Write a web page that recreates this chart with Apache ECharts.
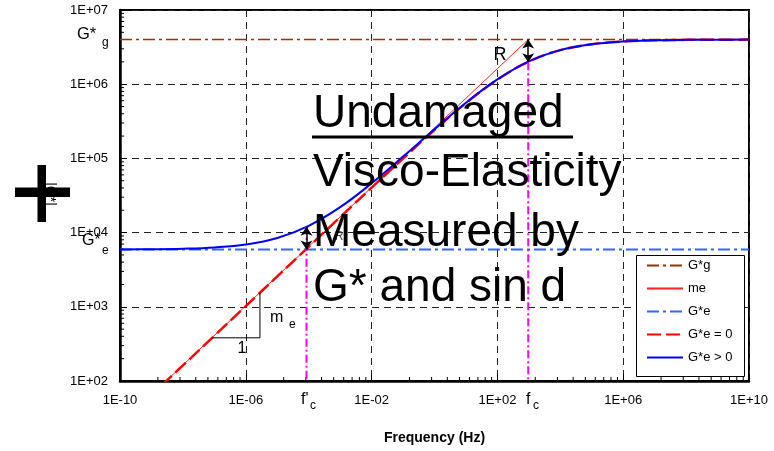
<!DOCTYPE html>
<html>
<head>
<meta charset="utf-8">
<script src="https://cdn.jsdelivr.net/npm/echarts@6/dist/echarts.min.js"></script>
<style>
  html, body { margin: 0; padding: 0; background: #fff; }
  #chart { width: 774px; height: 451px; }
</style>
</head>
<body>
<div id="chart"></div>
<script>
// log10 of frequency (Hz) at each decade
const freqExp = [-10, -9, -8, -7, -6, -5, -4, -3, -2, -1, 0, 1, 2, 3, 4, 5, 6, 7, 8, 9, 10]
// |G*| with G*e > 0 (blue) and G*e = 0 (red dashed)
const gWithGe = [5930, 5965, 6060, 6310, 6920, 8470, 12350, 22000, 46200, 105700, 247400, 562000,
  1159000, 2030000, 2880000, 3460000, 3770000, 3900000, 3960000, 3980000, 3990000]
const gNoGe = [26, 65, 162, 407, 1023, 2570, 6450, 16150, 40300, 99800, 241500, 556000,
  1153000, 2020000, 2880000, 3460000, 3770000, 3900000, 3960000, 3980000, 3990000]

const gGlassy = 4.0e6 // G*g
const gEquil = 5900 // G*e
const fcExp = 2.98 // fc
const fcPrimeExp = -4.07 // f'c
const gAtFc = 1970000
const gAtFcPrime = 12000
const meLineExp = [-10, fcExp]
const meLineG = [26, gGlassy]
// slope triangle corners
const slopeExp = [-7.07, -5.55, -5.55]
const slopeG = [382, 382, 1550]

const xTicks = ['1E-10', '1E-06', '1E-02', '1E+02', '1E+06', '1E+10']

const FONT = '"Liberation Sans", Arial, sans-serif'
const CLEAR = 'rgba(0,0,0,0)' // hides the legend marker, keeps the line
// x axis is log10(f) shifted so ticks start at 0
const xOf = e => e + 10
const pairs = (xs, ys) => xs.map((e, i) => [xOf(e), ys[i]])

const chart = echarts.init(document.getElementById('chart'))

chart.setOption({
  animation: false,
  backgroundColor: '#fff',
  textStyle: { fontFamily: FONT },
  grid: {
    left: 120, right: 25, top: 10, bottom: 70,
    show: true, borderColor: '#000', borderWidth: 2
  },
  legend: {
    orient: 'vertical',
    left: 646, top: 259,
    itemWidth: 36, itemHeight: 12, itemGap: 10,
    padding: 0,
    selectedMode: false,
    z: 5,
    textStyle: { fontSize: 13, color: '#000', fontFamily: FONT },
    data: ['G*g', 'me', 'G*e', 'G*e = 0', 'G*e > 0']
  },
  xAxis: {
    type: 'value',
    min: 0, max: 20, interval: 4,
    axisLine: { lineStyle: { color: '#000', width: 2.5 } },
    axisTick: { inside: true, length: 7, lineStyle: { color: '#000', width: 1 } },
    axisLabel: {
      margin: 13, color: '#000', fontSize: 13, fontFamily: FONT,
      formatter: v => xTicks[Math.round(v / 4)]
    },
    splitLine: { show: true, lineStyle: { color: '#222', type: [7, 5], width: 1 } },
    name: 'Frequency (Hz)',
    nameLocation: 'middle',
    nameGap: 50,
    nameTextStyle: { fontSize: 14, fontWeight: 'bold', color: '#000', fontFamily: FONT }
  },
  yAxis: {
    type: 'log',
    logBase: 10,
    min: 100, max: 1e7,
    axisLine: { lineStyle: { color: '#000', width: 2.5 } },
    axisTick: { inside: true, length: 7, lineStyle: { color: '#000', width: 1 } },
    axisLabel: {
      margin: 12, color: '#000', fontSize: 13, fontFamily: FONT,
      formatter: v => '1E+0' + Math.round(Math.log10(v))
    },
    splitLine: { show: true, lineStyle: { color: '#222', type: [7, 5], width: 1 } }
  },
  series: [
    {
      name: 'G*g', type: 'line', symbol: 'none',
      data: pairs([-10, 10], [gGlassy, gGlassy]),
      lineStyle: { color: '#993300', width: 1.5, type: [12, 4, 3, 4] },
      itemStyle: { color: CLEAR }
    },
    {
      name: 'G*e', type: 'line', symbol: 'none',
      data: pairs([-10, 10], [gEquil, gEquil]),
      lineStyle: { color: '#3366FF', width: 2, type: [12, 4, 3, 4] },
      itemStyle: { color: CLEAR }
    },
    {
      name: 'me', type: 'line', symbol: 'none',
      data: pairs(meLineExp, meLineG),
      lineStyle: { color: '#FF2020', width: 1 },
      itemStyle: { color: CLEAR }
    },
    {
      name: 'G*e = 0', type: 'line', symbol: 'none', smooth: 0.4,
      data: pairs(freqExp, gNoGe),
      lineStyle: { color: '#FF0000', width: 2.5, type: [14, 5] },
      itemStyle: { color: CLEAR }
    },
    {
      name: 'G*e > 0', type: 'line', symbol: 'none', smooth: 0.4,
      data: pairs(freqExp, gWithGe),
      lineStyle: { color: '#0000FF', width: 2 },
      itemStyle: { color: CLEAR }
    },
    {
      name: 'fc', type: 'line', symbol: 'none',
      data: pairs([fcExp, fcExp], [gAtFc, 100]),
      lineStyle: { color: '#FF00FF', width: 2, type: [8, 3, 2, 3] }
    },
    {
      name: "f'c", type: 'line', symbol: 'none',
      data: pairs([fcPrimeExp, fcPrimeExp], [gAtFcPrime, 100]),
      lineStyle: { color: '#FF00FF', width: 2, type: [8, 3, 2, 3] },
      markLine: {
        silent: true,
        symbol: ['arrow', 'arrow'],
        symbolSize: [9, 9],
        label: { show: false },
        lineStyle: { color: '#000', width: 1.5, type: 'solid' },
        itemStyle: { color: '#000' },
        data: [
          [{ coord: [xOf(fcExp), gGlassy] }, { coord: [xOf(fcExp), gAtFc] }],
          [{ coord: [xOf(fcPrimeExp), gAtFcPrime] }, { coord: [xOf(fcPrimeExp), gEquil] }]
        ]
      }
    },
    {
      name: 'slope', type: 'line', symbol: 'none',
      data: pairs(slopeExp, slopeG),
      lineStyle: { color: '#000', width: 1 }
    },
    {
      // log style minor ticks on both axes
      name: 'minor', type: 'custom', silent: true, clip: false, z: 3,
      data: [[0, 100]],
      renderItem: (params, api) => {
        const kids = []
        const x0 = api.coord([0, 100])[0]
        const yb = api.coord([0, 100])[1]
        for (let d = 2; d < 7; d++) {
          for (let k = 2; k < 10; k++) {
            const y = api.coord([0, k * Math.pow(10, d)])[1]
            kids.push({ type: 'line', shape: { x1: x0, y1: y, x2: x0 + 4, y2: y }, style: { stroke: '#000', lineWidth: 1 } })
          }
        }
        for (let i = 0; i < 5; i++) {
          for (let k = 2; k < 10; k++) {
            const x = api.coord([4 * i + 4 * Math.log10(k), 100])[0]
            kids.push({ type: 'line', shape: { x1: x, y1: yb, x2: x, y2: yb - 4 }, style: { stroke: '#000', lineWidth: 1 } })
          }
        }
        return { type: 'group', children: kids }
      }
    }
  ],
  graphic: [
    // legend frame
    { type: 'rect', z: 3, shape: { x: 636.5, y: 255.5, width: 108, height: 121 },
      style: { fill: '#fff', stroke: '#000', lineWidth: 1 } },
    // y axis title glyph
    { type: 'text', z: 10, x: 50, y: 194, rotation: -Math.PI / 2,
      style: { text: '|G*|', font: '14px ' + FONT, fill: '#000', align: 'center', verticalAlign: 'middle' } },
    { type: 'rect', z: 11, shape: { x: 37.5, y: 165, width: 8.5, height: 57 }, style: { fill: '#000' } },
    { type: 'rect', z: 11, shape: { x: 15, y: 187.5, width: 55, height: 9.5 }, style: { fill: '#000' } },
    // G*g and G*e labels
    { type: 'text', z: 10, x: 77, y: 34, style: { text: 'G*', font: '16.5px ' + FONT, fill: '#000', verticalAlign: 'middle' } },
    { type: 'text', z: 10, x: 102, y: 43, style: { text: 'g', font: '12px ' + FONT, fill: '#000', verticalAlign: 'middle' } },
    { type: 'text', z: 10, x: 82, y: 241, style: { text: 'G*', font: '16px ' + FONT, fill: '#000', verticalAlign: 'middle' } },
    { type: 'text', z: 10, x: 102, y: 251, style: { text: 'e', font: '12px ' + FONT, fill: '#000', verticalAlign: 'middle' } },
    // f'c and fc
    { type: 'text', z: 10, x: 301, y: 400, style: { text: "f'", font: '16px ' + FONT, fill: '#000', verticalAlign: 'middle' } },
    { type: 'text', z: 10, x: 310, y: 406, style: { text: 'c', font: '12px ' + FONT, fill: '#000', verticalAlign: 'middle' } },
    { type: 'text', z: 10, x: 526, y: 400, style: { text: 'f', font: '16px ' + FONT, fill: '#000', verticalAlign: 'middle' } },
    { type: 'text', z: 10, x: 533, y: 406, style: { text: 'c', font: '12px ' + FONT, fill: '#000', verticalAlign: 'middle' } },
    // R labels
    { type: 'text', z: 10, x: 500, y: 55, style: { text: 'R', font: '18px ' + FONT, fill: '#000', align: 'center', verticalAlign: 'middle' } },
    { type: 'text', z: 10, x: 339, y: 237, style: { text: 'R', font: '12px ' + FONT, fill: '#444', align: 'center', verticalAlign: 'middle' } },
    // slope triangle labels
    { type: 'text', z: 10, x: 242, y: 349, style: { text: '1', font: '16px ' + FONT, fill: '#000', align: 'center', verticalAlign: 'middle' } },
    { type: 'text', z: 10, x: 270, y: 318, style: { text: 'm', font: '16px ' + FONT, fill: '#000', verticalAlign: 'middle' } },
    { type: 'text', z: 10, x: 289, y: 325, style: { text: 'e', font: '12px ' + FONT, fill: '#000', verticalAlign: 'middle' } },
    // big title block
    { type: 'text', z: 100, x: 313, y: 114, style: { text: 'Undamaged', font: '46px ' + FONT, fill: '#000', verticalAlign: 'middle' } },
    { type: 'line', z: 100, shape: { x1: 312, y1: 137, x2: 573, y2: 137 }, style: { stroke: '#000', lineWidth: 3 } },
    { type: 'text', z: 100, x: 313, y: 173, style: { text: 'Visco-Elasticity', font: '46px ' + FONT, fill: '#000', verticalAlign: 'middle' } },
    { type: 'text', z: 100, x: 313, y: 233, style: { text: 'Measured by', font: '46px ' + FONT, fill: '#000', verticalAlign: 'middle' } },
    { type: 'text', z: 100, x: 313, y: 288, style: { text: 'G* and sin d', font: '46px ' + FONT, fill: '#000', verticalAlign: 'middle' } }
  ]
})
</script>
</body>
</html>
